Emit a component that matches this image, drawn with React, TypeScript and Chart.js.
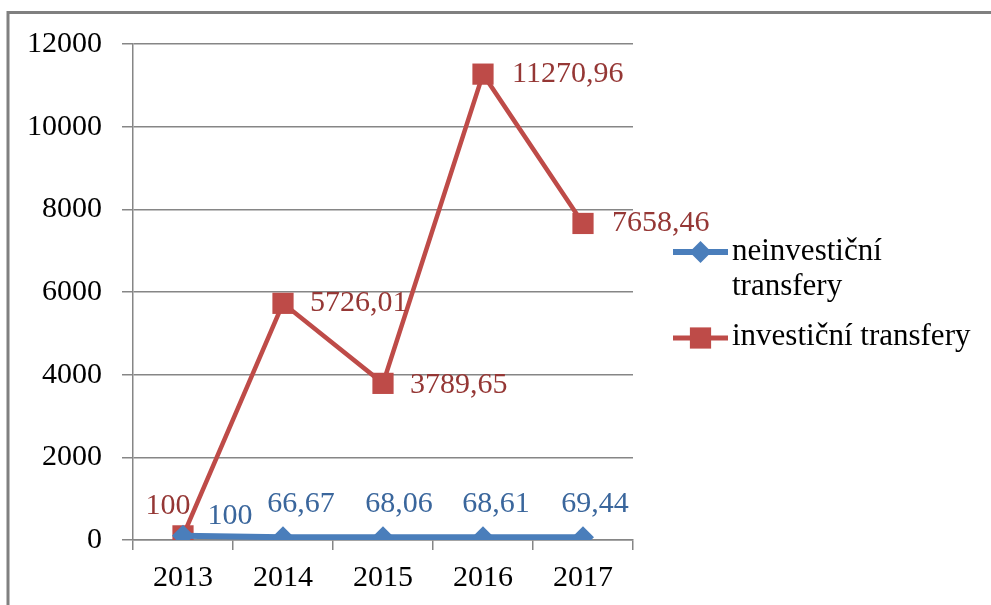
import React, { useEffect, useRef } from "react";
import { Chart, registerables } from "chart.js";

Chart.register(...registerables);

const categories = ["2013", "2014", "2015", "2016", "2017"];
const neinvesticni = [100, 66.67, 68.06, 68.61, 69.44];
const investicni = [100, 5726.01, 3789.65, 11270.96, 7658.46];
const neinvesticniLabels = ["100", "66,67", "68,06", "68,61", "69,44"];
const investicniLabels = ["100", "5726,01", "3789,65", "11270,96", "7658,46"];
const seriesNames = [["neinvestiční", "transfery"], ["investiční transfery"]];
const yMin = 0;
const yMax = 12000;
const yStep = 2000;

const FONT = "'Liberation Serif', 'Times New Roman', serif";
const BLUE = "#4A7EBB";
const BLUE_TEXT = "#3A669C";
const RED = "#BE4B48";
const RED_TEXT = "#953735";
const GRID = "#868686";

// label placement per point: [dx, dy, align]
const blueLabelPos: [number, number, CanvasTextAlign][] = [
  [47, -20, "center"],
  [18, -33, "center"],
  [16, -33, "center"],
  [13, -33, "center"],
  [12, -33, "center"],
];
const redLabelPos: [number, number, CanvasTextAlign][] = [
  [-15, -30, "center"],
  [27, 0, "left"],
  [27, 2, "left"],
  [29, 0, "left"],
  [29, 0, "left"],
];

const framePlugin = {
  id: "frame",
  beforeDraw(chart: any) {
    const ctx = chart.ctx;
    ctx.save();
    ctx.fillStyle = "#ffffff";
    ctx.fillRect(0, 0, chart.width, chart.height);
    ctx.strokeStyle = "#808080";
    ctx.lineWidth = 3;
    ctx.beginPath();
    ctx.moveTo(8, chart.height);
    ctx.lineTo(8, 12.5);
    ctx.lineTo(chart.width, 12.5);
    ctx.stroke();
    ctx.restore();
  },
};

const labelsPlugin = {
  id: "valueLabels",
  afterDatasetsDraw(chart: any) {
    const ctx = chart.ctx;
    ctx.save();
    ctx.font = `30px ${FONT}`;
    ctx.textBaseline = "middle";
    const sets = [
      { idx: 0, texts: neinvesticniLabels, pos: blueLabelPos, color: BLUE_TEXT },
      { idx: 1, texts: investicniLabels, pos: redLabelPos, color: RED_TEXT },
    ];
    sets.forEach((s) => {
      const meta = chart.getDatasetMeta(s.idx);
      meta.data.forEach((pt: any, i: number) => {
        const [dx, dy, align] = s.pos[i];
        ctx.fillStyle = s.color;
        ctx.textAlign = align;
        ctx.fillText(s.texts[i], pt.x + dx, pt.y + dy);
      });
    });
    ctx.restore();
  },
};

const legendPlugin = {
  id: "customLegend",
  afterDraw(chart: any) {
    const ctx = chart.ctx;
    ctx.save();
    const x0 = 673;
    const x1 = 728;
    const items = [
      { y: 252, color: BLUE, style: "rectRot", radius: 11, width: 6, lines: seriesNames[0], baselines: [260, 295] },
      { y: 338, color: RED, style: "rect", radius: 15, width: 5, lines: seriesNames[1], baselines: [345] },
    ];
    items.forEach((it) => {
      ctx.strokeStyle = it.color;
      ctx.lineWidth = it.width;
      ctx.beginPath();
      ctx.moveTo(x0, it.y);
      ctx.lineTo(x1, it.y);
      ctx.stroke();
      ctx.fillStyle = it.color;
      ctx.beginPath();
      const cx = (x0 + x1) / 2;
      if (it.style === "rect") {
        const s = Math.SQRT1_2 * it.radius;
        ctx.rect(cx - s, it.y - s, 2 * s, 2 * s);
      } else {
        ctx.moveTo(cx - it.radius, it.y);
        ctx.lineTo(cx, it.y - it.radius);
        ctx.lineTo(cx + it.radius, it.y);
        ctx.lineTo(cx, it.y + it.radius);
        ctx.closePath();
      }
      ctx.fill();
      ctx.fillStyle = "#000000";
      ctx.font = `31px ${FONT}`;
      ctx.textAlign = "left";
      ctx.textBaseline = "alphabetic";
      it.lines.forEach((t: string, k: number) => {
        ctx.fillText(t, 732, it.baselines[k]);
      });
    });
    ctx.restore();
  },
};

export default function App() {
  const ref = useRef<HTMLCanvasElement | null>(null);
  useEffect(() => {
    document.body.style.margin = "0";
    if (!ref.current) return;
    const chart = new Chart(ref.current, {
      type: "line",
      data: {
        labels: categories,
        datasets: [
          {
            label: seriesNames[0].join(" "),
            data: neinvesticni,
            borderColor: BLUE,
            backgroundColor: BLUE,
            borderWidth: 6,
            pointStyle: "rectRot",
            pointRadius: 11,
            pointHoverRadius: 11,
            pointBorderWidth: 0,
            tension: 0,
          },
          {
            label: seriesNames[1].join(" "),
            data: investicni,
            borderColor: RED,
            backgroundColor: RED,
            borderWidth: 4.5,
            pointStyle: "rect",
            pointRadius: 15,
            pointHoverRadius: 15,
            pointBorderWidth: 0,
            tension: 0,
          },
        ],
      },
      options: {
        responsive: false,
        animation: false,
        devicePixelRatio: 1,
        layout: { padding: { left: 0, right: 358, top: 44, bottom: 0 } },
        plugins: {
          legend: { display: false },
          tooltip: { enabled: false },
          title: { display: false },
        },
        scales: {
          x: {
            type: "category",
            offset: true,
            grid: {
              offset: true,
              drawOnChartArea: false,
              drawTicks: true,
              tickLength: 10,
              color: GRID,
              lineWidth: 1.5,
            },
            border: { display: true, color: GRID, width: 1.5 },
            ticks: {
              color: "#000000",
              font: { family: FONT, size: 30 },
              padding: 10,
              maxRotation: 0,
              autoSkip: false,
            },
            afterFit(scale: any) {
              scale.height = 65;
            },
          },
          y: {
            min: yMin,
            max: yMax,
            grid: {
              color: GRID,
              lineWidth: 1.5,
              drawTicks: true,
              tickLength: 11,
            },
            border: { display: true, color: GRID, width: 1.5 },
            ticks: {
              stepSize: yStep,
              color: "#000000",
              font: { family: FONT, size: 30 },
              padding: 20,
              callback: (v: any) => String(v),
            },
            afterFit(scale: any) {
              scale.width = 133;
            },
          },
        },
      },
      plugins: [framePlugin, labelsPlugin, legendPlugin],
    });
    return () => chart.destroy();
  }, []);
  return <canvas ref={ref} width={991} height={605} style={{ display: "block" }} />;
}
